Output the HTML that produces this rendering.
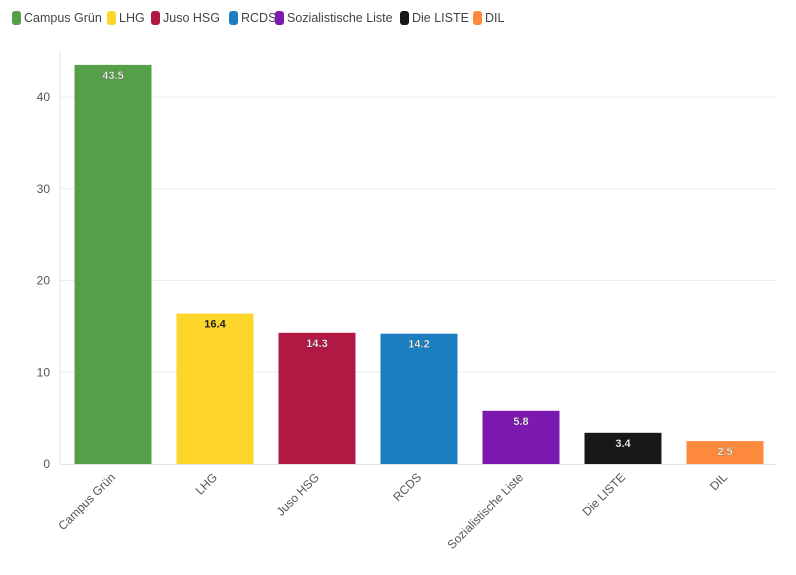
<!DOCTYPE html>
<html><head><meta charset="utf-8">
<style>
body{margin:0;background:#fff;font-family:"Liberation Sans",sans-serif;}
#wrap{position:relative;width:796px;height:575px;overflow:hidden}
.leg{position:absolute;top:11px;font-size:12.5px;color:#444;display:flex;align-items:center;white-space:nowrap}
.sw{width:9px;height:14px;border-radius:3px;margin-right:3px}
</style></head><body>
<div id="wrap">
<div id="legend"></div>
<svg id="svg" width="796" height="575" style="position:absolute;left:0;top:0"></svg>
</div>
<script>
const categories=["Campus Grün","LHG","Juso HSG","RCDS","Sozialistische Liste","Die LISTE","DIL"];
const values=[43.5,16.4,14.3,14.2,5.8,3.4,2.5];
const colors=["#569f49","#fed629","#b01944","#1b7ec0","#7c19ae","#181818","#fd8a3c"];
const labelColors=["#fff","#222","#fff","#fff","#fff","#fff","#fff"];
const yTicks=[0,10,20,30,40];
const legX=[12,107,151,229,275,400,473];
const NS="http://www.w3.org/2000/svg";
const svg=document.getElementById('svg');
const x0=62,bw=102,y0=464,ppu=9.175;
const yS=v=>y0-v*ppu;
function mk(t,a,p){const e=document.createElementNS(NS,t);for(const k in a)e.setAttribute(k,a[k]);(p||svg).appendChild(e);return e;}
yTicks.forEach(t=>{
 if(t>0){const l=mk('line',{x1:60,x2:776,y1:yS(t),y2:yS(t),stroke:'#ececec'});
 }
 const tx=mk('text',{x:50,y:yS(t)+4,'text-anchor':'end','font-size':12,fill:'#555'});tx.textContent=t;
 
});
const ax=mk('line',{x1:60,x2:60,y1:50,y2:464,stroke:'#e4e4e4'});

const bx=mk('line',{x1:60,x2:776,y1:464.5,y2:464.5,stroke:'#e4e4e4'});

categories.forEach((c,i)=>{
 const cx=x0+bw*i+bw/2;
 const r=mk('rect',{x:cx-38.5,y:yS(values[i]),width:77,height:values[i]*ppu,fill:colors[i]});
 
 const vl=mk('text',{x:cx,y:yS(values[i])+14,'text-anchor':'middle','font-size':11,'font-weight':'bold',fill:labelColors[i],stroke:labelColors[i]=='#fff'?'rgba(0,0,0,0.35)':'none','stroke-width':0.5});
 vl.textContent=values[i];
 
 const tl=mk('text',{x:cx+3,y:478,'text-anchor':'end','font-size':12,fill:'#555',transform:`rotate(-45 ${cx+3} 478)`});
 tl.textContent=c;
 
 const lg=document.createElement('div');lg.className='leg';lg.style.left=legX[i]+'px';
 lg.innerHTML=`<span class="sw" style="background:${colors[i]}"></span>${c}`;
 
 document.getElementById('legend').appendChild(lg);
});
</script>
</body></html>
